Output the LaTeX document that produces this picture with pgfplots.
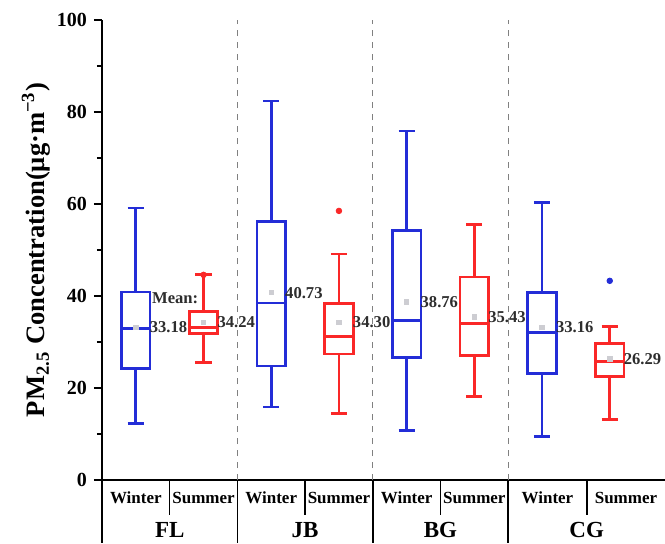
\documentclass[border=0pt]{standalone}
\usepackage{fontspec}
\setmainfont{Liberation Serif}
\usepackage{pgfplots}
\pgfplotsset{compat=1.18}

\definecolor{boxblue}{RGB}{35,45,215}
\definecolor{boxred}{RGB}{250,40,40}
\definecolor{meangray}{RGB}{205,205,210}
\definecolor{labgray}{RGB}{45,45,45}

\tikzset{
  subl/.style={font=\fontsize{8.5}{10}\selectfont\bfseries},
  grpl/.style={font=\fontsize{11.5}{13}\selectfont\bfseries},
  tbl/.style={line width=0.8pt},
}
\pgfplotsset{
  wbox/.style={boxblue, line width=1.35pt, line join=miter, unbounded coords=jump, mark=none},
  sbox/.style={boxred, line width=1.35pt, line join=miter, unbounded coords=jump, mark=none},
}

\begin{document}
\begin{tikzpicture}
\path[use as bounding box] (-51pt,-31.5pt) rectangle (281.5pt,240pt);
\begin{axis}[
  at={(0,0)}, anchor=south west,
  scale only axis, width=281.5pt, height=230pt,
  xmin=0.5, xmax=8.816, ymin=0, ymax=100,
  axis lines*=left,
  axis line style={line width=0.8pt},
  xtick=\empty,
  ytick={0,20,...,100},
  minor y tick num=1,
  tick style={black, line width=0.7pt},
  major tick length=4pt, minor tick length=2.5pt,
  tick align=outside,
  tick label style={font=\fontsize{10}{12}\selectfont\bfseries},
  /pgf/number format/assume math mode=true,
  ylabel={PM\textsubscript{2.5} Concentration(μg·m\textsuperscript{−3})},
  every axis y label/.style={at={(axis description cs:0,0.5)}, xshift=-33pt, rotate=90, anchor=center, font=\fontsize{13.3}{15}\selectfont\bfseries},
  clip=false,
]
% group separators
\addplot[gray, dashed, line width=0.6pt] coordinates {(2.5,0)(2.5,100)};
\addplot[gray, dashed, line width=0.6pt] coordinates {(4.5,0)(4.5,100)};
\addplot[gray, dashed, line width=0.6pt] coordinates {(6.5,0)(6.5,100)};

% boxes: box (q1..q3) closed, median, upper whisker + cap, lower whisker + cap
% FL winter: 12.3 / 24.3 / 33.0 / 40.9 / 59.1
\addplot[wbox] coordinates {(0.79,24.3)(1.21,24.3)(1.21,40.9)(0.79,40.9)(0.79,24.3)(1.21,24.3) (nan,nan)
  (0.79,33.0)(1.21,33.0) (nan,nan) (1,40.9)(1,59.1) (nan,nan) (0.88,59.1)(1.12,59.1) (nan,nan)
  (1,24.3)(1,12.3) (nan,nan) (0.88,12.3)(1.12,12.3)};
% FL summer: 25.5 / 31.9 / 33.2 / 36.7 / 44.6
\addplot[sbox] coordinates {(1.79,31.9)(2.21,31.9)(2.21,36.7)(1.79,36.7)(1.79,31.9)(2.21,31.9) (nan,nan)
  (1.79,33.2)(2.21,33.2) (nan,nan) (2,36.7)(2,44.6) (nan,nan) (1.88,44.6)(2.12,44.6) (nan,nan)
  (2,31.9)(2,25.5) (nan,nan) (1.88,25.5)(2.12,25.5)};
% JB winter: 15.9 / 24.8 / 38.5 / 56.2 / 82.4
\addplot[wbox] coordinates {(2.79,24.8)(3.21,24.8)(3.21,56.2)(2.79,56.2)(2.79,24.8)(3.21,24.8) (nan,nan)
  (2.79,38.5)(3.21,38.5) (nan,nan) (3,56.2)(3,82.4) (nan,nan) (2.88,82.4)(3.12,82.4) (nan,nan)
  (3,24.8)(3,15.9) (nan,nan) (2.88,15.9)(3.12,15.9)};
% JB summer: 14.5 / 27.4 / 31.2 / 38.4 / 49.1
\addplot[sbox] coordinates {(3.79,27.4)(4.21,27.4)(4.21,38.4)(3.79,38.4)(3.79,27.4)(4.21,27.4) (nan,nan)
  (3.79,31.2)(4.21,31.2) (nan,nan) (4,38.4)(4,49.1) (nan,nan) (3.88,49.1)(4.12,49.1) (nan,nan)
  (4,27.4)(4,14.5) (nan,nan) (3.88,14.5)(4.12,14.5)};
% BG winter: 10.7 / 26.7 / 34.6 / 54.2 / 75.9
\addplot[wbox] coordinates {(4.79,26.7)(5.21,26.7)(5.21,54.2)(4.79,54.2)(4.79,26.7)(5.21,26.7) (nan,nan)
  (4.79,34.6)(5.21,34.6) (nan,nan) (5,54.2)(5,75.9) (nan,nan) (4.88,75.9)(5.12,75.9) (nan,nan)
  (5,26.7)(5,10.7) (nan,nan) (4.88,10.7)(5.12,10.7)};
% BG summer: 18.1 / 27.0 / 34.0 / 44.1 / 55.6
\addplot[sbox] coordinates {(5.79,27.0)(6.21,27.0)(6.21,44.1)(5.79,44.1)(5.79,27.0)(6.21,27.0) (nan,nan)
  (5.79,34.0)(6.21,34.0) (nan,nan) (6,44.1)(6,55.6) (nan,nan) (5.88,55.6)(6.12,55.6) (nan,nan)
  (6,27.0)(6,18.1) (nan,nan) (5.88,18.1)(6.12,18.1)};
% CG winter: 9.4 / 23.2 / 32.1 / 40.8 / 60.3
\addplot[wbox] coordinates {(6.79,23.2)(7.21,23.2)(7.21,40.8)(6.79,40.8)(6.79,23.2)(7.21,23.2) (nan,nan)
  (6.79,32.1)(7.21,32.1) (nan,nan) (7,40.8)(7,60.3) (nan,nan) (6.88,60.3)(7.12,60.3) (nan,nan)
  (7,23.2)(7,9.4) (nan,nan) (6.88,9.4)(7.12,9.4)};
% CG summer: 13.2 / 22.5 / 25.7 / 29.7 / 33.3
\addplot[sbox] coordinates {(7.79,22.5)(8.21,22.5)(8.21,29.7)(7.79,29.7)(7.79,22.5)(8.21,22.5) (nan,nan)
  (7.79,25.7)(8.21,25.7) (nan,nan) (8,29.7)(8,33.3) (nan,nan) (7.88,33.3)(8.12,33.3) (nan,nan)
  (8,22.5)(8,13.2) (nan,nan) (7.88,13.2)(8.12,13.2)};

% outliers
\addplot[only marks, mark=*, mark size=1.4pt, boxred] coordinates {(2,44.6)(4,58.5)};
\addplot[only marks, mark=*, mark size=1.4pt, boxblue] coordinates {(8,43.3)};

% means
\addplot[only marks, mark=square*, mark size=1.1pt, color=meangray,
  nodes near coords, point meta=explicit symbolic,
  every node near coord/.append style={anchor=west, xshift=6.3pt, inner sep=0.5pt, text=labgray, font=\fontsize{8.3}{10}\selectfont\bfseries}]
  coordinates {(1,33.18)[33.18] (2,34.24)[34.24] (3,40.73)[40.73] (4,34.30)[34.30]
               (5,38.76)[38.76] (6,35.43)[35.43] (7,33.16)[33.16] (8,26.29)[26.29]};
\node[anchor=west, inner sep=0.5pt, text=labgray, font=\fontsize{8.3}{10}\selectfont\bfseries] at (axis cs:1.22,39.6) {Mean:};

% category table below the axis
\draw[tbl] (axis cs:0.5,0) -- (axis cs:0.5,-13.7);
\draw[tbl] (axis cs:2.5,0) -- (axis cs:2.5,-13.7);
\draw[tbl] (axis cs:4.5,0) -- (axis cs:4.5,-13.7);
\draw[tbl] (axis cs:6.5,0) -- (axis cs:6.5,-13.7);
\draw[tbl] (axis cs:1.5,0) -- (axis cs:1.5,-7.6);
\draw[tbl] (axis cs:3.5,0) -- (axis cs:3.5,-7.6);
\draw[tbl] (axis cs:5.5,0) -- (axis cs:5.5,-7.6);
\draw[tbl] (axis cs:7.66,0) -- (axis cs:7.66,-7.6);
\node[subl] at (axis cs:1,-3.9) {Winter};
\node[subl] at (axis cs:2,-3.9) {Summer};
\node[subl] at (axis cs:3,-3.9) {Winter};
\node[subl] at (axis cs:4,-3.9) {Summer};
\node[subl] at (axis cs:5,-3.9) {Winter};
\node[subl] at (axis cs:6,-3.9) {Summer};
\node[subl] at (axis cs:7.08,-3.9) {Winter};
\node[subl] at (axis cs:8.24,-3.9) {Summer};
\node[grpl] at (axis cs:1.5,-10.9) {FL};
\node[grpl] at (axis cs:3.5,-10.9) {JB};
\node[grpl] at (axis cs:5.5,-10.9) {BG};
\node[grpl] at (axis cs:7.66,-10.9) {CG};
\end{axis}
\end{tikzpicture}
\end{document}
